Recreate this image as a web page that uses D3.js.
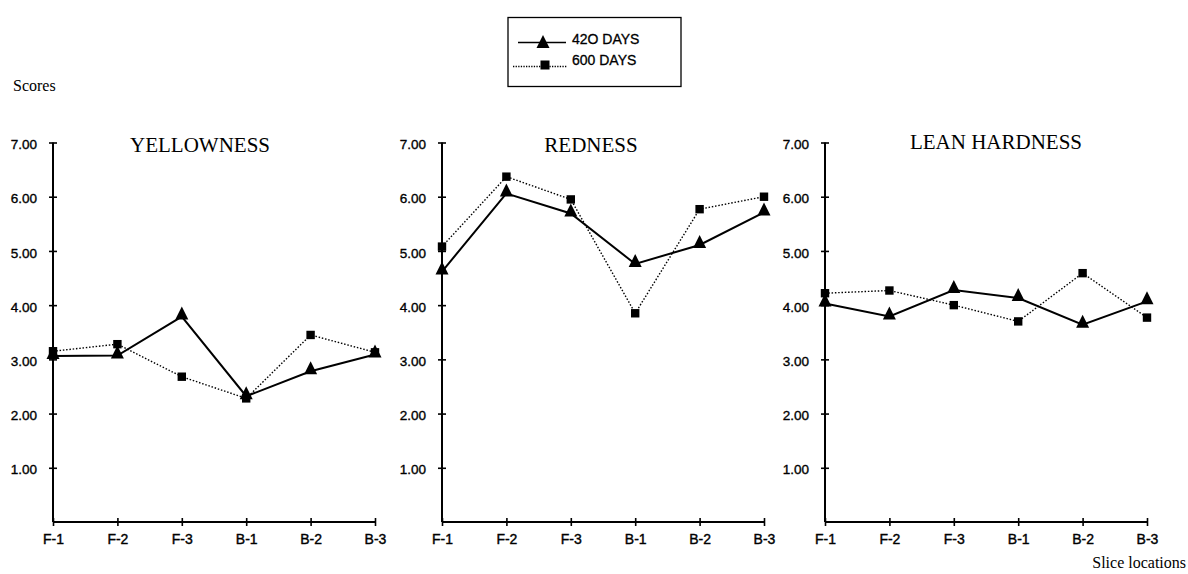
<!DOCTYPE html>
<html>
<head>
<meta charset="utf-8">
<script src="https://cdn.jsdelivr.net/npm/d3@7"></script>
<style>
  body { margin: 0; background: #fff; }
  svg { display: block; }
</style>
</head>
<body>
<script>
// data
const slices = ["F-1", "F-2", "F-3", "B-1", "B-2", "B-3"];
const panelTitles = ["YELLOWNESS", "REDNESS", "LEAN HARDNESS"];
const days420 = [
  [3.06, 3.07, 3.79, 2.32, 2.78, 3.09],
  [4.62, 6.06, 5.69, 4.76, 5.11, 5.71],
  [4.03, 3.79, 4.28, 4.13, 3.64, 4.07]
];
const days600 = [
  [3.15, 3.28, 2.68, 2.28, 3.45, 3.13],
  [5.08, 6.37, 5.95, 3.85, 5.77, 6.00],
  [4.22, 4.27, 4.00, 3.70, 4.59, 3.77]
];
const yTicks = [1, 2, 3, 4, 5, 6, 7];
const seriesNames = ["42O DAYS", "600 DAYS"];

const W = 1188, H = 574;
const svg = d3.select("body").append("svg").attr("width", W).attr("height", H);

const panelLeft = [53, 442, 825];
const panelW = 322;
const plotTop = 142.5, plotBottom = 522;
const innerH = plotBottom - plotTop;
const titlePos = [[200, 152], [591, 152], [996, 149]];

const sans = "'Liberation Sans', Arial, sans-serif";
const serif = "'Liberation Serif', 'Times New Roman', serif";

function triangle(g, x, y) {
  g.append("path")
    .attr("d", `M${x},${y - 10} L${x + 6.5},${y + 3} L${x - 6.5},${y + 3} Z`)
    .attr("fill", "#000");
}
function square(g, x, y, s = 8.4) {
  g.append("rect").attr("x", x - s / 2).attr("y", y - s / 2)
    .attr("width", s).attr("height", s).attr("fill", "#000");
}

panelTitles.forEach((title, i) => {
  const g = svg.append("g").attr("transform", `translate(${panelLeft[i]}, ${plotTop})`);

  const x = d3.scalePoint().domain(slices).range([0, panelW]);
  const y = d3.scaleLinear().domain([0, 7]).range([innerH, 0]);

  // y axis
  const yAxis = d3.axisLeft(y).tickValues(yTicks).tickFormat(d3.format(".2f")).tickSize(4);
  const ya = g.append("g").call(yAxis);
  ya.select(".domain").remove();
  ya.selectAll(".tick line").attr("x1", -4).attr("x2", 4).attr("stroke-width", 1.6);
  ya.selectAll(".tick text").attr("x", -16).attr("dy", "0.45em").attr("font-family", sans)
    .attr("font-size", 13.5).attr("fill", "#000")
    .attr("stroke", "#000").attr("stroke-width", 0.35);
  g.append("line").attr("x1", 0).attr("x2", 0).attr("y1", y(0)).attr("y2", y(7))
    .attr("stroke", "#000").attr("stroke-width", 2);

  // x axis
  const xAxis = d3.axisBottom(x).tickSize(4);
  const xa = g.append("g").attr("transform", `translate(0, ${innerH})`).call(xAxis);
  xa.select(".domain").remove();
  xa.selectAll(".tick line").attr("y1", -4).attr("y2", 4).attr("stroke-width", 1.6);
  xa.selectAll(".tick text").attr("y", 22).attr("dy", 0).attr("font-family", sans)
    .attr("font-size", 14).attr("fill", "#000")
    .attr("stroke", "#000").attr("stroke-width", 0.4);
  g.append("line").attr("x1", 0).attr("x2", panelW).attr("y1", innerH).attr("y2", innerH)
    .attr("stroke", "#000").attr("stroke-width", 2);

  // title
  svg.append("text").attr("x", titlePos[i][0]).attr("y", titlePos[i][1])
    .attr("text-anchor", "middle").attr("font-family", serif).attr("font-size", 21)
    .text(title);

  const line = d3.line().x((d, j) => x(slices[j])).y(d => y(d));

  g.append("path").datum(days600[i]).attr("d", line).attr("fill", "none")
    .attr("stroke", "#000").attr("stroke-width", 1.4).attr("stroke-dasharray", "1.5,1.8");
  g.append("path").datum(days420[i]).attr("d", line).attr("fill", "none")
    .attr("stroke", "#000").attr("stroke-width", 2);

  days600[i].forEach((v, j) => square(g, x(slices[j]), y(v)));
  days420[i].forEach((v, j) => triangle(g, x(slices[j]), y(v)));
});

// axis captions
svg.append("text").attr("x", 13).attr("y", 91).attr("font-family", serif)
  .attr("font-size", 16).text("Scores");
svg.append("text").attr("x", 1186).attr("y", 568).attr("text-anchor", "end")
  .attr("font-family", serif).attr("font-size", 16).text("Slice locations");

// legend
const lg = svg.append("g");
lg.append("rect").attr("x", 508).attr("y", 17.5).attr("width", 173).attr("height", 69)
  .attr("fill", "none").attr("stroke", "#000").attr("stroke-width", 1.3);
lg.append("line").attr("x1", 518).attr("x2", 566).attr("y1", 42.5).attr("y2", 42.5)
  .attr("stroke", "#000").attr("stroke-width", 1.4);
triangle(lg, 543, 45);
lg.append("text").attr("x", 572).attr("y", 43.5).attr("font-family", sans)
  .attr("font-size", 14).attr("stroke", "#000").attr("stroke-width", 0.3)
  .text(seriesNames[0]);
lg.append("line").attr("x1", 513).attr("x2", 567).attr("y1", 66.5).attr("y2", 66.5)
  .attr("stroke", "#000").attr("stroke-width", 1.3).attr("stroke-dasharray", "1.3,1.3");
square(lg, 545, 65, 9);
lg.append("text").attr("x", 572).attr("y", 65).attr("font-family", sans)
  .attr("font-size", 14).attr("stroke", "#000").attr("stroke-width", 0.3)
  .text(seriesNames[1]);
</script>
</body>
</html>
